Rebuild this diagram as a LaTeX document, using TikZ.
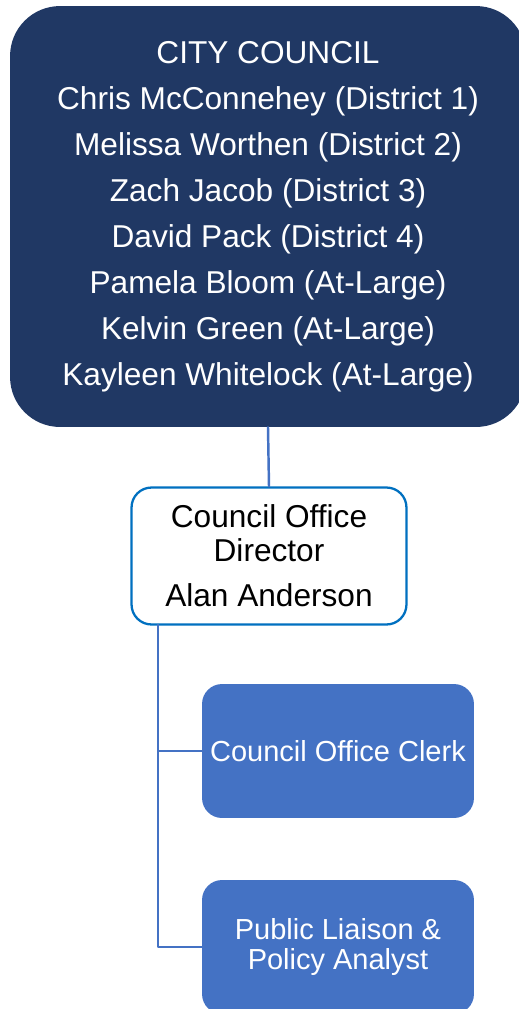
\documentclass[tikz,border=0pt]{standalone}
\usepackage{fontspec}
\setmainfont{Liberation Sans}
\definecolor{councilnavy}{HTML}{203864}
\definecolor{staffblue}{HTML}{4472C4}
\definecolor{frameblue}{HTML}{0070C0}
\tikzset{
	councilbox/.style={fill=councilnavy, text=white, rounded corners=1cm, align=center,
		minimum width=10.32cm, minimum height=8.42cm, inner sep=0pt,
		font=\fontsize{18}{26.2}\selectfont},
	headbox/.style={draw=frameblue, line width=1.3pt, fill=white, rounded corners=.4cm,
		align=center, minimum width=5.5cm, minimum height=2.74cm, inner sep=0pt,
		font=\fontsize{18}{19}\selectfont},
	staffbox/.style={fill=staffblue, text=white, rounded corners=.4cm, align=center,
		minimum width=5.44cm, minimum height=2.68cm, inner sep=0pt,
		font=\fontsize{16.5}{17}\selectfont},
	link/.style={draw=staffblue, line width=1.4pt}
}
\begin{document}
\begin{tikzpicture}[x=0.02cm, y=-0.02cm, line join=round, line cap=round]
	\useasboundingbox (0,0) rectangle (519,1009);
	\node[councilbox] (council) at (268,216.5) {CITY COUNCIL\\Chris McConnehey (District 1)\\Melissa Worthen (District 2)\\Zach Jacob (District 3)\\David Pack (District 4)\\Pamela Bloom (At-Large)\\Kelvin Green (At-Large)\\Kayleen Whitelock (At-Large)};
	\node[headbox] (director) at (269,556) {Council Office\\Director\\[7pt]Alan Anderson};
	\node[staffbox] (clerk) at (338,751) {Council Office Clerk};
	\node[staffbox] (analyst) at (338,947) {Public Liaison \&\\Policy Analyst};
	% connectors
	\coordinate (trunk) at (158,625);
	\draw[link] (council.south) -- (director.north);
	\draw[link] (trunk) |- (clerk.west);
	\draw[link] (trunk) |- (analyst.west);
\end{tikzpicture}
\end{document}
